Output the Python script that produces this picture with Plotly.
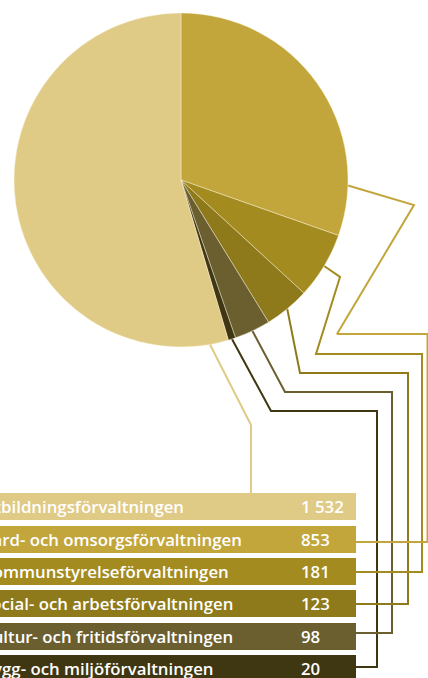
import math
import plotly.graph_objects as go

# ---- data ----
categories = [
    "Utbildningsförvaltningen",
    "Vård- och omsorgsförvaltningen",
    "Kommunstyrelseförvaltningen",
    "Social- och arbetsförvaltningen",
    "Kultur- och fritidsförvaltningen",
    "Bygg- och miljöförvaltningen",
]
values = [1532, 853, 181, 123, 98, 20]
value_labels = ["1 532", "853", "181", "123", "98", "20"]

# ---- style / layout ----
colors = ["#DFCA86", "#C2A63C", "#A38B1F", "#8E7A1A", "#6B5F30", "#3F3712"]
pie_order = [1, 2, 3, 4, 5, 0]          # clockwise from 12 o'clock
W, H = 428, 678
CX, CY, R = 181, 180, 167               # pie centre / radius in px
anchor_frac = [0.033, 0.84, 0.5, 0.5, 0.5, 0.5]   # where the leader leaves each slice
box_top = [493, 526, 558, 590, 623, 655]
box_h = 27
box_right = 356
leader_elbows = [
    [(251, 425), (251, 493)],
    [(414, 205), (337, 334), (427.5, 334), (427.5, 542), (356, 542)],
    [(340, 277), (316, 354), (422, 354), (422, 572), (356, 572)],
    [(300, 373), (408, 373), (408, 604), (356, 604)],
    [(285, 392), (392, 392), (392, 633), (356, 633)],
    [(271, 411), (377, 411), (377, 667), (356, 667)],
]
FONT = dict(family="Open Sans", size=16.8, color="white", weight=600)

fig = go.Figure()

# pie
fig.add_trace(go.Pie(
    labels=[categories[i] for i in pie_order],
    values=[values[i] for i in pie_order],
    marker=dict(colors=[colors[i] for i in pie_order],
                line=dict(color="rgba(255,248,225,0.7)", width=0.6)),
    sort=False, direction="clockwise", rotation=0,
    textinfo="none", hoverinfo="skip", showlegend=False,
    domain=dict(x=[(CX - R) / W, (CX + R) / W],
                y=[1 - (CY + R) / H, 1 - (CY - R) / H]),
))

# slice angles (clockwise from top, degrees)
total = sum(values)
start = {}
acc = 0.0
for i in pie_order:
    start[i] = acc
    acc += values[i] / total * 360.0

# leader lines (drawn so the upper rows lie on top)
for i in [0, 5, 4, 3, 2, 1]:
    ang = start[i] + anchor_frac[i] * values[i] / total * 360.0
    sx = CX + R * math.sin(math.radians(ang))
    sy = CY - R * math.cos(math.radians(ang))
    pts = [(sx, sy)] + leader_elbows[i]
    fig.add_trace(go.Scatter(
        x=[p[0] for p in pts], y=[p[1] for p in pts], mode="lines",
        line=dict(color=colors[i], width=2), hoverinfo="skip",
        showlegend=False,
    ))

# label boxes and texts
shapes = []
annotations = []
for i, cat in enumerate(categories):
    y0 = box_top[i]
    y1 = y0 + box_h
    shapes.append(dict(type="rect", xref="x", yref="y", x0=0, x1=box_right,
                       y0=y0, y1=y1, fillcolor=colors[i], line=dict(width=0),
                       layer="below"))
    yc = 1 - (y0 + box_h / 2) / H
    annotations.append(dict(xref="paper", yref="paper", x=-20 / W, y=yc,
                            xanchor="left", yanchor="middle", text=cat,
                            showarrow=False, font=FONT))
    annotations.append(dict(xref="paper", yref="paper", x=299 / W, y=yc,
                            xanchor="left", yanchor="middle",
                            text=value_labels[i], showarrow=False, font=FONT))

fig.update_layout(
    width=W, height=H, margin=dict(l=0, r=0, t=0, b=0),
    paper_bgcolor="white", plot_bgcolor="white",
    xaxis=dict(range=[0, W], visible=False, fixedrange=True),
    yaxis=dict(range=[H, 0], visible=False, fixedrange=True),
    shapes=shapes, annotations=annotations, showlegend=False,
)

fig.write_html("out.html")
